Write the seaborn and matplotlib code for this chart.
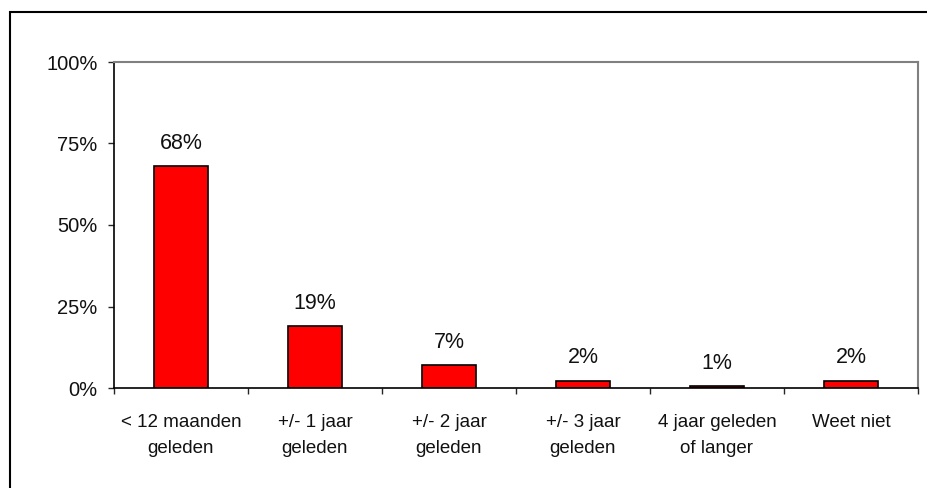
import numpy as np
import pandas as pd
import matplotlib
matplotlib.use("Agg")
import matplotlib.pyplot as plt
import seaborn as sns
from matplotlib.patches import Rectangle

categories = ["< 12 maanden\ngeleden", "+/- 1 jaar\ngeleden", "+/- 2 jaar\ngeleden",
              "+/- 3 jaar\ngeleden", "4 jaar geleden\nof langer", "Weet niet"]
values = [68, 19, 7, 2.3, 0.6, 2.3]
value_labels = ["68%", "19%", "7%", "2%", "1%", "2%"]
y_ticks = [0, 25, 50, 75, 100]

sns.set_style("white")
plt.rcParams["font.family"] = ["Liberation Sans", "DejaVu Sans"]

df = pd.DataFrame({"cat": categories, "val": values})

fig = plt.figure(figsize=(9.27, 4.88), dpi=100)
ax = fig.add_axes([114 / 927, 1 - 388 / 488, 804 / 927, 326 / 488])

sns.barplot(data=df, x="cat", y="val", color="#ff0000", width=0.4,
            edgecolor="black", linewidth=1.2, saturation=1, ax=ax)

for i, (v, lab) in enumerate(zip(values, value_labels)):
    ax.annotate(lab, (i, v), xytext=(0, 9), textcoords="offset points",
                ha="center", va="bottom", fontsize=15.5, color="#111111")

ax.set_xlim(-0.5, len(categories) - 0.5)
ax.set_ylim(0, 100)
ax.set_yticks(y_ticks)
ax.set_yticklabels([f"{t}%" for t in y_ticks], fontsize=14.5, color="#111111")

# category names centred, tick marks between categories
ax.set_xticks(np.arange(-0.5, len(categories)), minor=False)
ax.set_xticklabels([""] * (len(categories) + 1))
ax.set_xticks(np.arange(len(categories)), minor=True)
ax.set_xticklabels(categories, minor=True, fontsize=13.5, linespacing=1.75,
                   color="#111111", va="top")
ax.tick_params(axis="x", which="major", length=4.3, width=1, direction="out", bottom=True)
ax.tick_params(axis="x", which="minor", length=0, pad=18.5)
ax.tick_params(axis="y", length=4.3, width=1, direction="out", left=True, pad=7.5)
ax.set_xlabel("")
ax.set_ylabel("")

for side in ["left", "bottom"]:
    ax.spines[side].set_color("black")
    ax.spines[side].set_linewidth(1.2)
for side in ["top", "right"]:
    ax.spines[side].set_color("#808080")
    ax.spines[side].set_linewidth(1.5)

# outer frame: only left and top edges are visible, the rest runs off the image
fig.patches.append(Rectangle((10.3 / 927, -20 / 488), 950 / 927, 496 / 488,
                             transform=fig.transFigure, fill=False,
                             edgecolor="black", linewidth=1.5))

fig.savefig("out.png", dpi=100)
